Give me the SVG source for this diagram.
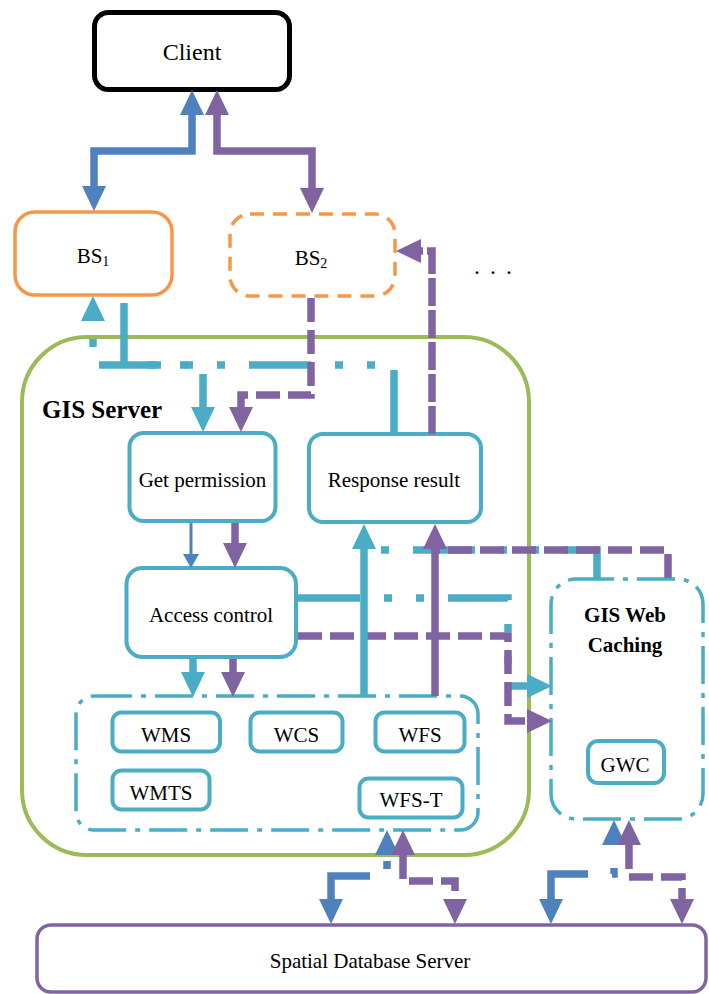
<svg xmlns="http://www.w3.org/2000/svg" width="709" height="994" viewBox="0 0 709 994" font-family="'Liberation Serif', 'DejaVu Serif', serif">
<style>
.t{font-size:21px;text-anchor:middle;fill:#000}
.b{font-weight:bold}
.node{fill:#fff;stroke:#4BACC6;stroke-width:4}
.frame{fill:none;stroke:#4BACC6;stroke-width:3.5;stroke-dasharray:38 9 5 9}
.k{fill:none;stroke-width:7.5}
.cy{stroke:#4BACC6}
.bl{stroke:#4F81BD}
.pu{stroke:#8064A2}
.ddot{stroke-dasharray:62 24 8 24 8 24}
.dash{stroke-dasharray:24 8}
.ldash{stroke-dasharray:28 4}
</style>
<defs>
<marker id="aCy" markerUnits="userSpaceOnUse" viewBox="0 0 25 24" markerWidth="25" markerHeight="24" refX="0" refY="12" orient="auto-start-reverse"><path d="M0,0 L25,12 L0,24 z" fill="#4BACC6"/></marker>
<marker id="aBl" markerUnits="userSpaceOnUse" viewBox="0 0 25 24" markerWidth="25" markerHeight="24" refX="0" refY="12" orient="auto-start-reverse"><path d="M0,0 L25,12 L0,24 z" fill="#4F81BD"/></marker>
<marker id="aPu" markerUnits="userSpaceOnUse" viewBox="0 0 25 24" markerWidth="25" markerHeight="24" refX="0" refY="12" orient="auto-start-reverse"><path d="M0,0 L25,12 L0,24 z" fill="#8064A2"/></marker>
<marker id="aBlS" markerUnits="userSpaceOnUse" viewBox="0 0 14 16" markerWidth="14" markerHeight="16" refX="0" refY="8" orient="auto-start-reverse"><path d="M0,0 L14,8 L0,16 z" fill="#4F81BD"/></marker>
</defs>
<rect width="709" height="994" fill="#fff"/>

<g id="gis-server">
<rect x="22" y="337" width="507" height="518" rx="65" fill="none" stroke="#9BBB59" stroke-width="4"/>
<text class="t b" x="42" y="418" font-family="'Liberation Serif', serif" style="text-anchor:start;font-size:25px">GIS Server</text>
</g>

<g id="client">
<rect x="94.5" y="12.5" width="195" height="77" rx="14" fill="#fff" stroke="#000" stroke-width="5"/>
<text class="t" x="192" y="60" font-family="'Liberation Serif', serif" style="font-size:24px">Client</text>
</g>

<g id="bs1">
<rect x="15" y="212" width="157" height="83" rx="20" fill="#fff" stroke="#F79646" stroke-width="3.5"/>
<text class="t" x="93" y="263" font-family="'Liberation Serif', serif">BS<tspan font-size="14" dy="3">1</tspan></text>
</g>

<g id="bs2">
<rect x="230" y="214" width="165" height="82" rx="20" fill="#fff" stroke="#F79646" stroke-width="3.5" stroke-dasharray="14 9"/>
<text class="t" x="311" y="265" font-family="'Liberation Serif', serif">BS<tspan font-size="14" dy="3">2</tspan></text>
</g>

<g id="more">
<text class="t" x="477 493 509" y="274" font-family="'Liberation Serif', serif" style="font-size:24px">...</text>
</g>

<g id="get-permission">
<rect class="node" x="129.5" y="433" width="146" height="88" rx="14"/>
<text class="t" x="202.5" y="487" font-family="'Liberation Serif', serif">Get permission</text>
</g>

<g id="response-result">
<rect class="node" x="309" y="434" width="172" height="88" rx="14"/>
<text class="t" x="394" y="487" font-family="'Liberation Serif', serif">Response result</text>
</g>

<g id="access-control">
<rect class="node" x="126.5" y="568" width="169.5" height="89" rx="16"/>
<text class="t" x="211" y="622" font-family="'Liberation Serif', serif">Access control</text>
</g>

<g id="services" font-family="'Liberation Serif', serif">
<rect class="frame" x="76" y="696" width="402" height="134" rx="18"/>
<g id="wms"><rect class="node" x="112.5" y="712.5" width="107.5" height="39" rx="9"/><text class="t" x="166" y="742">WMS</text></g>
<g id="wcs"><rect class="node" x="250.5" y="712.5" width="92" height="39" rx="9"/><text class="t" x="296.5" y="742">WCS</text></g>
<g id="wfs"><rect class="node" x="375.5" y="712.5" width="89" height="39" rx="9"/><text class="t" x="420" y="742">WFS</text></g>
<g id="wmts"><rect class="node" x="112.5" y="770.5" width="97" height="39" rx="9"/><text class="t" x="161" y="800">WMTS</text></g>
<g id="wfs-t"><rect class="node" x="359.5" y="778.5" width="103" height="39" rx="9"/><text class="t" x="411" y="807">WFS-T</text></g>
</g>

<g id="gis-web-caching" font-family="'Liberation Serif', serif">
<rect class="frame" x="551" y="579" width="152" height="240" rx="25"/>
<text class="t b" x="625" y="622">GIS Web</text>
<text class="t b" x="625" y="652">Caching</text>
<g id="gwc"><rect class="node" x="588" y="741" width="76" height="42" rx="10"/><text class="t" x="625" y="772">GWC</text></g>
</g>

<g id="spatial-db">
<rect x="37" y="925" width="669" height="67" rx="14" fill="#fff" stroke="#8064A2" stroke-width="3.5"/>
<text class="t" x="370" y="968" font-family="'Liberation Serif', serif">Spatial Database Server</text>
</g>

<g id="connectors">
<path class="k bl" d="M192,115 V151 H94 V186" marker-start="url(#aBl)" marker-end="url(#aBl)"/>
<path class="k pu" d="M217,115 V151 H312 V188" marker-start="url(#aPu)" marker-end="url(#aPu)"/>

<path class="k cy ddot" d="M394,432 V365 H93 V321" marker-end="url(#aCy)"/>
<path class="k cy ddot" d="M124,303 V365 H203 V407" marker-end="url(#aCy)"/>
<path class="k pu dash" d="M311,298 V395 H241 V407" marker-end="url(#aPu)"/>
<path class="k pu ldash" d="M432,434 V251 H421" marker-end="url(#aPu)"/>

<path fill="none" stroke="#4F81BD" stroke-width="3" d="M191,523 V554" marker-end="url(#aBlS)"/>
<path class="k pu" d="M235,523 V543" marker-end="url(#aPu)"/>

<path class="k cy" d="M193,659 V672" marker-end="url(#aCy)"/>
<path class="k pu" d="M233,659 V672" marker-end="url(#aPu)"/>

<path class="k cy ddot" d="M298,598 H508 V686 H527" marker-end="url(#aCy)"/>
<path class="k pu dash" d="M298,636 H508 V721 H527" marker-end="url(#aPu)"/>

<path class="k cy ddot" d="M597,578 V550 H364"/>
<path class="k pu dash" d="M668,578 V550 H435"/>
<path class="k cy" d="M364,696 V549" marker-end="url(#aCy)"/>
<path class="k pu" d="M435,696 V549" marker-end="url(#aPu)"/>

<path class="k bl ddot" d="M331,899 V876 H387 V855" marker-start="url(#aBl)" marker-end="url(#aBl)"/>
<path class="k pu dash" d="M403,855 V881 H455 V899" marker-start="url(#aPu)" marker-end="url(#aPu)"/>
<path class="k bl ddot" d="M551,899 V874 H614 V845" marker-start="url(#aBl)" marker-end="url(#aBl)"/>
<path class="k pu dash" d="M629,845 V877 H682 V899" marker-start="url(#aPu)" marker-end="url(#aPu)"/>
</g>
</svg>
